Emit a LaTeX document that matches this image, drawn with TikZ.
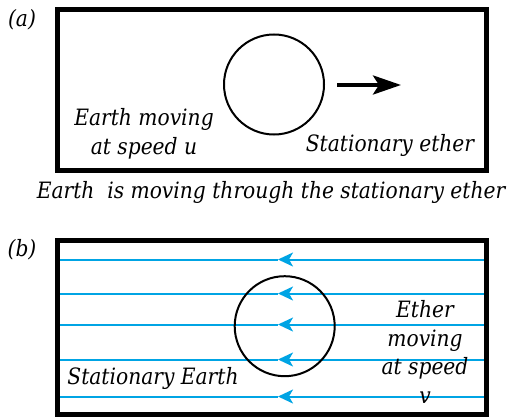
\documentclass[tikz,border=0pt]{standalone}
\usepackage{fontspec}
\setmainfont{DejaVu Serif Condensed}
\usetikzlibrary{arrows.meta}
\definecolor{etherblue}{RGB}{0,164,228}
\tikzset{
  frame/.style={draw=black, line width=5pt},
  earth/.style={draw=black, line width=2pt, circle, minimum size=100pt, inner sep=0pt},
  lbl/.style={font=\fontsize{22.5}{28.5}\selectfont\itshape, inner sep=0pt, align=center},
  flow/.style={draw=etherblue, line width=2pt},
  flowtip/.style={flow, -{Stealth[length=15pt,width=14pt,inset=4pt]}},
  motion/.style={draw=black, line width=4pt, -{Stealth[length=28pt,width=19pt,inset=6pt]}}
}
\begin{document}
\begin{tikzpicture}[x=1pt,y=-1pt]
\useasboundingbox (0,0) rectangle (510,417);
% (a)
\node[lbl] (la) at (22,20) {(a)};
\draw[frame] (57.5,9.5) rectangle (486.5,170);
\node[earth] (ea) at (274,84.5) {};
\coordinate (as) at (337,85);
\coordinate (ae) at (401,85);
\draw[motion] (as) -- (ae);
\node[lbl] (tem) at (144,134) {Earth moving\\at speed u};
\node[lbl] (tse) at (390,145) {Stationary ether};
\node[lbl] (cap) at (271,192) {Earth\ \ is moving through the stationary ether};
% (b)
\node[lbl] (lb) at (22,250) {(b)};
\foreach \i/\y in {1/259.5,2/293.5,3/324.5,4/359.5,5/396.5}{
  \coordinate (r\i) at (484,\y);
  \coordinate (m\i) at (278,\y);
  \coordinate (l\i) at (60,\y);
  \draw[flow] (m\i) -- (l\i);
  \draw[flowtip] (r\i) -- (m\i);
}
\draw[frame] (57.5,240.5) rectangle (486.5,414.5);
\node[earth] (eb) at (284.7,326.2) {};
\node[lbl] (tev) at (425,352) {Ether\\moving\\at speed\\v};
\node[lbl] (tsb) at (153,378) {Stationary Earth};
\end{tikzpicture}
\end{document}
